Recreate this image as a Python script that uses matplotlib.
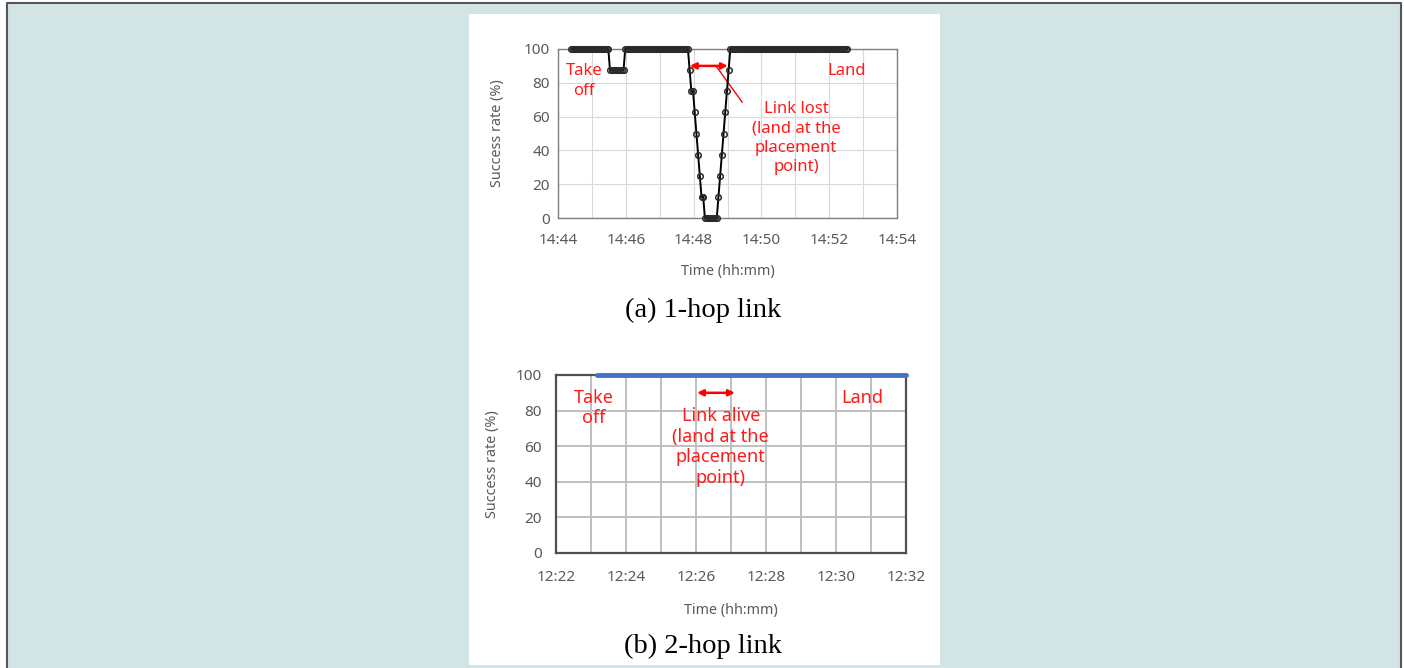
import numpy as np
import matplotlib
matplotlib.use('Agg')
import matplotlib.pyplot as plt
from matplotlib.patches import Rectangle
from matplotlib.lines import Line2D

plt.rcParams['font.family'] = ['Noto Sans', 'DejaVu Sans']

W, H = 1404, 668

# (a) 1-hop link: success rate samples, every 3 s starting 14:44:23
hop1_start_s = 23
hop1_step_s = 3
hop1_values = ([100] * 23 + [87.5] * 9 + [100] * 38 +
               [87.5, 75, 75, 62.5, 50, 37.5, 25, 12.5, 12.5] +
               [0] * 8 +
               [12.5, 25, 37.5, 50, 62.5, 75, 87.5] +
               [100] * 70)
hop1_ticks = ['14:44', '14:46', '14:48', '14:50', '14:52', '14:54']

# (b) 2-hop link: minutes after 12:22
hop2_times = [1.17, 10.0]
hop2_values = [100, 100]
hop2_ticks = ['12:22', '12:24', '12:26', '12:28', '12:30', '12:32']

yticks = [0, 20, 40, 60, 80, 100]

GRAY = '#595959'
RED = '#ff1a1a'


def fx(px):
    return px / W


def fy(py):
    return 1 - py / H


fig = plt.figure(figsize=(W / 100, H / 100), dpi=100, facecolor='white')

# background + white panel
fig.patches.append(Rectangle((fx(7), 0), fx(1401) - fx(7), fy(3), transform=fig.transFigure,
                             facecolor='#d2e5e4', edgecolor='none', zorder=-3))
fig.lines.append(Line2D([fx(7), fx(7), fx(1401), fx(1401)], [0, fy(3), fy(3), 0],
                        transform=fig.transFigure, color='#555555', lw=1.5, zorder=-2))
fig.patches.append(Rectangle((fx(469), fy(665)), fx(940) - fx(469), fy(14) - fy(665),
                             transform=fig.transFigure, facecolor='white', edgecolor='none', zorder=-2))


def style_axes(ax, ticks, spine_col, spine_lw, grid_col, grid_lw, xpad, ypad):
    ax.set_xlim(0, 10)
    ax.set_ylim(0, 100)
    ax.set_xticks(range(0, 11, 2))
    ax.set_xticklabels(ticks)
    ax.set_xticks(range(0, 11), minor=True)
    ax.set_yticks(yticks)
    ax.grid(True, which='both', axis='x', color=grid_col, lw=grid_lw)
    ax.grid(True, which='major', axis='y', color=grid_col, lw=grid_lw)
    ax.set_axisbelow(True)
    ax.tick_params(which='both', length=0, labelsize=11, colors=GRAY)
    ax.tick_params(axis='x', pad=xpad)
    ax.tick_params(axis='y', pad=ypad)
    for s in ax.spines.values():
        s.set_color(spine_col)
        s.set_linewidth(spine_lw)
    ax.set_facecolor('none')
    ax.set_xlabel('Time (hh:mm)', fontsize=10.3, color=GRAY)
    ax.set_ylabel('Success rate (%)', fontsize=10.3, color=GRAY)


# ---- (a) 1-hop link
ax1 = fig.add_axes([fx(558), fy(218), fx(897) - fx(558), fy(49) - fy(218)])
style_axes(ax1, hop1_ticks, '#7f7f7f', 1.0, '#d9d9d9', 0.8, 11, 6)
ax1.xaxis.set_label_coords(0.5, -0.275)
ax1.yaxis.set_label_coords(-0.156, 0.5)

t1 = (hop1_start_s + hop1_step_s * np.arange(len(hop1_values))) / 60.0
ax1.plot(t1, hop1_values, color='black', lw=1.4, marker='o', ms=4.0,
         mfc='none', mec='#2a2a2a', mew=1.1, clip_on=False, zorder=3)

ax1.annotate('', xy=(3.89, 90), xytext=(5.01, 90),
             arrowprops=dict(arrowstyle='<|-|>', color='red', lw=1.8,
                             mutation_scale=9, shrinkA=0, shrinkB=0))
ax1.plot([4.66, 5.43], [90, 68.6], color='red', lw=1)
ax1.text(0.77, 81, 'Take\noff', color=RED, fontsize=12, ha='center', va='center', linespacing=1.3)
ax1.text(8.5, 87, 'Land', color=RED, fontsize=12, ha='center', va='center')
ax1.text(7.02, 47.3, 'Link lost\n(land at the\nplacement\npoint)', color=RED, fontsize=12,
         ha='center', va='center', linespacing=1.3)

# ---- (b) 2-hop link
ax2 = fig.add_axes([fx(556), fy(553), fx(906) - fx(556), fy(375) - fy(553)])
style_axes(ax2, hop2_ticks, '#505050', 1.6, '#bfbfbf', 1.4, 12, 10)
ax2.xaxis.set_label_coords(0.5, -0.28)
ax2.yaxis.set_label_coords(-0.16, 0.5)

ax2.plot(hop2_times, hop2_values, color='#4472c4', lw=3.5, solid_capstyle='round',
         clip_on=False, zorder=3)

ax2.annotate('', xy=(4.03, 90), xytext=(5.11, 90),
             arrowprops=dict(arrowstyle='<|-|>', color='red', lw=1.8,
                             mutation_scale=9, shrinkA=0, shrinkB=0))
ax2.text(1.09, 81.5, 'Take\noff', color=RED, fontsize=13, ha='center', va='center', linespacing=1.2)
ax2.text(8.74, 87, 'Land', color=RED, fontsize=13, ha='center', va='center')
ax2.text(4.71, 59.5, 'Link alive\n(land at the\nplacement\npoint)', color=RED, fontsize=13,
         ha='center', va='center', linespacing=1.2)

# captions
fig.text(fx(703), fy(310), '(a) 1-hop link', fontsize=20.5, family='Liberation Serif',
         ha='center', va='center')
fig.text(fx(703), fy(646), '(b) 2-hop link', fontsize=20.5, family='Liberation Serif',
         ha='center', va='center')

fig.savefig('out.png', dpi=100, facecolor=fig.get_facecolor())
